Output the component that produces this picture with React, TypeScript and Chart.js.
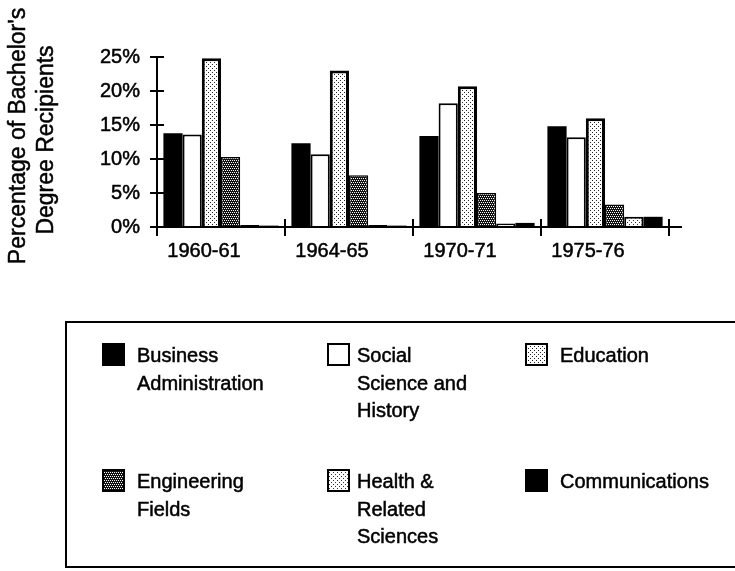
import React, { useEffect, useRef } from "react";
import { Chart, registerables } from "chart.js";

Chart.register(...registerables);

// ---- Data ----
const categories = ["1960-61", "1964-65", "1970-71", "1975-76"];
const seriesNames = [
  "Business Administration",
  "Social Science and History",
  "Education",
  "Engineering Fields",
  "Health & Related Sciences",
  "Communications",
];
const legendLines = [
  ["Business", "Administration"],
  ["Social", "Science and", "History"],
  ["Education"],
  ["Engineering", "Fields"],
  ["Health &", "Related", "Sciences"],
  ["Communications"],
];
const businessAdmin = [13.8, 12.3, 13.4, 14.8];
const socialScience = [13.6, 10.7, 18.2, 13.2];
const education = [24.8, 23.0, 20.7, 16.0];
const engineering = [10.3, 7.6, 5.0, 3.3];
const health = [0.3, 0.3, 0.5, 1.5];
const communications = [0.2, 0.2, 0.6, 1.5];
const yTicks = [0, 5, 10, 15, 20, 25];
const yAxisTitle = ["Percentage of Bachelor's", "Degree Recipients"];

const FONT = "'Liberation Sans', Arial, Helvetica, sans-serif";

function makePattern(bg: string, fg: string, size: number, dots: number[][]) {
  const c = document.createElement("canvas");
  c.width = size;
  c.height = size;
  const g = c.getContext("2d")!;
  g.fillStyle = bg;
  g.fillRect(0, 0, size, size);
  g.fillStyle = fg;
  dots.forEach(([x, y]) => g.fillRect(x, y, 1, 1));
  return g.createPattern(c, "repeat")!;
}

const customDraw = {
  id: "customDraw",
  afterDraw(chart: any) {
    const ctx: CanvasRenderingContext2D = chart.ctx;
    const xs = chart.scales.x;
    const ys = chart.scales.y;
    const { left, right } = chart.chartArea;
    const line = (x1: number, y1: number, x2: number, y2: number) => {
      ctx.beginPath();
      ctx.moveTo(x1, y1);
      ctx.lineTo(x2, y2);
      ctx.stroke();
    };
    ctx.save();
    ctx.strokeStyle = "#000";
    ctx.lineWidth = 2;
    // y axis
    const base = ys.getPixelForValue(0);
    line(left, ys.getPixelForValue(yTicks[yTicks.length - 1]), left, base + 1);
    yTicks.forEach((v) => {
      const py = ys.getPixelForValue(v);
      line(left - 7, py, left + 7, py);
    });
    // x axis
    line(left, base, right + 13, base);
    const n = categories.length;
    const half = (xs.getPixelForValue(1) - xs.getPixelForValue(0)) / 2;
    for (let i = 0; i <= n; i++) {
      const px = i < n ? xs.getPixelForValue(i) - half : xs.getPixelForValue(n - 1) + half;
      line(px, base - 8, px, base + 9);
    }

    const text = (t: string, x: number, y: number) => {
      ctx.fillText(t, x, y);
      ctx.strokeText(t, x, y);
    };

    // y-axis title
    ctx.fillStyle = "#000";
    ctx.font = `23px ${FONT}`;
    ctx.lineWidth = 0.5;
    ctx.textAlign = "center";
    ctx.textBaseline = "middle";
    const titleX = [19, 47];
    const titleY = [136, 140];
    yAxisTitle.forEach((t, i) => {
      ctx.save();
      ctx.translate(titleX[i], titleY[i]);
      ctx.rotate(-Math.PI / 2);
      text(t, 0, 0);
      ctx.restore();
    });

    // legend box
    ctx.lineWidth = 2;
    ctx.beginPath();
    ctx.moveTo(745, 322);
    ctx.lineTo(66, 322);
    ctx.lineTo(66, 567);
    ctx.lineTo(745, 567);
    ctx.stroke();

    // legend items
    const colSw = [102, 327, 525];
    const colTx = [137, 357, 560];
    const rowY = [343, 469];
    const sw = 23;
    ctx.font = `20px ${FONT}`;
    ctx.textAlign = "left";
    ctx.textBaseline = "alphabetic";
    chart.data.datasets.forEach((ds: any, i: number) => {
      const c = i % 3;
      const r = Math.floor(i / 3);
      const sx = colSw[c];
      const sy = rowY[r];
      ctx.fillStyle = ds.backgroundColor;
      ctx.fillRect(sx, sy, sw, sw);
      ctx.strokeStyle = "#000";
      ctx.lineWidth = 2;
      ctx.strokeRect(sx + 1, sy + 1, sw - 2, sw - 2);
      ctx.fillStyle = "#000";
      ctx.lineWidth = 0.5;
      legendLines[i].forEach((t, k) => {
        text(t, colTx[c], sy + 19 + k * 27.5);
      });
    });
    ctx.restore();
  },
};

export default function App() {
  const ref = useRef<HTMLCanvasElement | null>(null);

  useEffect(() => {
    if (!ref.current) return;
    const light = makePattern("#ffffff", "#222222", 4, [[0, 0], [2, 2]]);
    const light2 = makePattern("#ffffff", "#333333", 4, [[1, 0], [3, 2]]);
    const dark = makePattern("#111111", "#ffffff", 4, [[0, 0], [2, 0], [1, 2], [3, 2]]);
    const values = [businessAdmin, socialScience, education, engineering, health, communications];
    const fills: any[] = ["#000000", "#ffffff", light, dark, light2, "#000000"];
    const borders = [0, 2, 3, 1.5, 2, 0];

    const chart = new Chart(ref.current, {
      type: "bar",
      data: {
        labels: categories,
        datasets: seriesNames.map((name, i) => ({
          label: name,
          data: values[i],
          backgroundColor: fills[i],
          borderColor: "#000000",
          borderWidth: borders[i],
          categoryPercentage: 0.9,
          barPercentage: 1.0,
        })),
      },
      options: {
        animation: false,
        responsive: false,
        devicePixelRatio: 1,
        layout: { padding: { top: 57, right: 66, bottom: 304, left: 0 } },
        plugins: { legend: { display: false }, tooltip: { enabled: false } },
        scales: {
          x: {
            offset: true,
            grid: { display: false, drawTicks: false },
            border: { display: false },
            ticks: {
              color: "#000",
              font: { family: FONT, size: 20 },
              padding: 12,
              labelOffset: -17,
              textStrokeColor: "#000",
              textStrokeWidth: 0.5,
            },
            afterFit: (s: any) => {
              s.height = 40;
            },
          },
          y: {
            min: 0,
            max: 25,
            grid: { display: false, drawTicks: false },
            border: { display: false },
            ticks: {
              stepSize: 5,
              color: "#000",
              font: { family: FONT, size: 20 },
              padding: 17,
              textStrokeColor: "#000",
              textStrokeWidth: 0.5,
              callback: (v: any) => `${v}%`,
            },
            afterFit: (s: any) => {
              s.width = 157;
            },
          },
        },
      },
      plugins: [customDraw],
    });
    return () => chart.destroy();
  }, []);

  return (
    <div style={{ position: "absolute", left: 0, top: 0, width: 735, height: 571, background: "#fff" }}>
      <canvas ref={ref} width={735} height={571} />
    </div>
  );
}
